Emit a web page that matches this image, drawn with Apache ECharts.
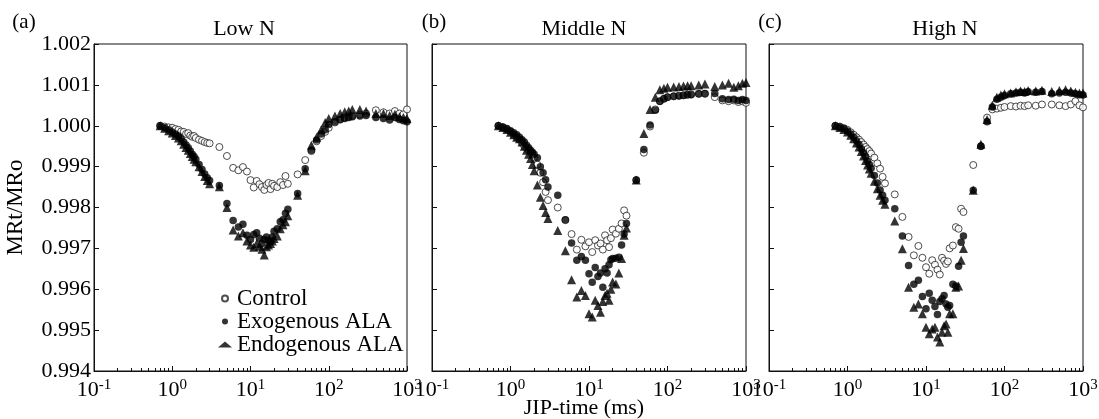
<!DOCTYPE html>
<html>
<head>
<meta charset="utf-8">
<script src="https://cdn.jsdelivr.net/npm/echarts@6/dist/echarts.min.js"></script>
<style>html,body{margin:0;padding:0;background:#fff}#c{width:1099px;height:419px}</style>
</head>
<body>
<div id="c"></div>
<script>
// ---- data (JIP-time in ms, MRt/MRo) ----
const timeMs = [0.7,0.8,0.9,1.0,1.1,1.2,1.3,1.4,1.5,1.6,1.7,1.8,1.9,2.0,2.2,2.4,2.6,2.8,3.0,
  4,5,6,7,8,9,10,11,12,13,14,15,16,17,18,19,20,22,24,26,28,30,
  40,50,60,70,80,90,100,120,140,160,180,200,250,300,
  400,500,600,700,800,900,1000];

const lowControl = [1.00000,0.99998,0.99996,0.99995,0.99992,0.99990,0.99986,0.99985,0.99980,0.99982,0.99976,0.99973,0.99975,0.99970,0.99966,0.99963,0.99960,0.99958,0.99957,
  0.99948,0.99926,0.99897,0.99891,0.99899,0.99888,0.99867,0.99849,0.99865,0.99857,0.99850,0.99843,0.99855,0.99860,0.99845,0.99858,0.99853,0.99850,0.99862,0.99855,0.99877,0.99858,
  0.99881,0.99916,0.99938,0.99962,0.99975,0.99985,0.99995,1.00008,1.00015,1.00020,1.00022,1.00024,1.00027,1.00030,
  1.00038,1.00033,1.00030,1.00036,1.00030,1.00028,1.00040];
const lowExo = [1.00000,0.99995,0.99990,0.99985,0.99980,0.99975,0.99968,0.99960,0.99953,0.99946,0.99938,0.99930,0.99925,0.99918,0.99905,0.99893,0.99882,0.99873,0.99866,
  0.99854,0.99810,0.99768,0.99752,0.99759,0.99732,0.99722,0.99734,0.99738,0.99725,0.99712,0.99722,0.99728,0.99720,0.99716,0.99728,0.99742,0.99748,0.99765,0.99770,0.99786,0.99796,
  0.99834,0.99895,0.99940,0.99965,0.99980,0.99990,1.00003,1.00010,1.00015,1.00018,1.00020,1.00022,1.00024,1.00025,
  1.00020,1.00018,1.00014,1.00020,1.00015,1.00012,1.00010];
const lowEndo = [1.00000,0.99994,0.99988,0.99982,0.99976,0.99970,0.99963,0.99955,0.99947,0.99940,0.99932,0.99925,0.99918,0.99912,0.99900,0.99888,0.99876,0.99866,0.99858,
  0.99851,0.99800,0.99745,0.99730,0.99738,0.99718,0.99708,0.99703,0.99712,0.99705,0.99698,0.99684,0.99704,0.99708,0.99712,0.99718,0.99724,0.99730,0.99748,0.99758,0.99765,0.99780,
  0.99830,0.99890,0.99952,0.99972,0.99990,1.00008,1.00018,1.00024,1.00030,1.00034,1.00036,1.00040,1.00040,1.00036,
  1.00030,1.00030,1.00025,1.00028,1.00022,1.00020,1.00018];

const midControl = [1.00000,0.99996,0.99991,0.99985,0.99978,0.99972,0.99966,0.99958,0.99950,0.99945,0.99940,0.99935,0.99928,0.99922,0.99905,0.99885,0.99862,0.99838,0.99818,
  0.99800,0.99769,0.99735,0.99697,0.99721,0.99705,0.99715,0.99691,0.99720,0.99707,0.99712,0.99697,0.99732,0.99720,0.99703,0.99725,0.99746,0.99736,0.99748,0.99761,0.99793,0.99780,
  0.99867,0.99934,0.99998,1.00040,1.00060,1.00066,1.00070,1.00072,1.00074,1.00075,1.00076,1.00077,1.00078,1.00078,
  1.00070,1.00062,1.00060,1.00062,1.00058,1.00060,1.00056];
const midExo = [1.00000,0.99997,0.99993,0.99988,0.99983,0.99978,0.99972,0.99966,0.99960,0.99952,0.99946,0.99940,0.99935,0.99930,0.99922,0.99900,0.99885,0.99868,0.99850,
  0.99830,0.99770,0.99713,0.99671,0.99680,0.99671,0.99638,0.99617,0.99653,0.99631,0.99640,0.99605,0.99650,0.99640,0.99660,0.99672,0.99675,0.99676,0.99678,0.99708,0.99735,0.99761,
  0.99867,0.99942,1.00002,1.00038,1.00060,1.00066,1.00070,1.00072,1.00073,1.00074,1.00076,1.00076,1.00078,1.00079,
  1.00079,1.00066,1.00064,1.00065,1.00062,1.00064,1.00062];
const midEndo = [1.00000,0.99996,0.99991,0.99984,0.99978,0.99972,0.99968,0.99960,0.99950,0.99940,0.99930,0.99920,0.99905,0.99890,0.99855,0.99825,0.99805,0.99788,0.99773,
  0.99744,0.99694,0.99623,0.99581,0.99597,0.99585,0.99540,0.99532,0.99573,0.99560,0.99544,0.99570,0.99585,0.99590,0.99573,0.99600,0.99618,0.99613,0.99640,0.99675,0.99732,0.99750,
  0.99867,0.99981,1.00040,1.00070,1.00088,1.00092,1.00094,1.00095,1.00096,1.00097,1.00098,1.00098,1.00100,1.00102,
  1.00096,1.00100,1.00104,1.00094,1.00098,1.00104,1.00106];

const highControl = [1.00000,0.99998,0.99994,0.99990,0.99984,0.99978,0.99972,0.99966,0.99960,0.99954,0.99948,0.99943,0.99938,0.99932,0.99922,0.99908,0.99895,0.99875,0.99859,
  0.99832,0.99777,0.99728,0.99683,0.99706,0.99677,0.99654,0.99638,0.99671,0.99660,0.99648,0.99636,0.99677,0.99670,0.99662,0.99668,0.99700,0.99707,0.99752,0.99748,0.99797,0.99789,
  0.99904,0.99950,1.00020,1.00040,1.00042,1.00044,1.00046,1.00048,1.00047,1.00049,1.00048,1.00050,1.00049,1.00052,
  1.00052,1.00050,1.00048,1.00052,1.00060,1.00050,1.00045];
const highExo = [1.00000,0.99997,0.99993,0.99987,0.99980,0.99972,0.99963,0.99954,0.99944,0.99934,0.99924,0.99914,0.99905,0.99896,0.99878,0.99860,0.99843,0.99830,0.99818,
  0.99797,0.99730,0.99658,0.99612,0.99622,0.99582,0.99552,0.99590,0.99573,0.99558,0.99538,0.99570,0.99577,0.99585,0.99564,0.99556,0.99560,0.99612,0.99608,0.99656,0.99715,0.99730,
  0.99842,0.99950,1.00010,1.00046,1.00065,1.00070,1.00074,1.00078,1.00080,1.00082,1.00080,1.00083,1.00082,1.00084,
  1.00078,1.00080,1.00082,1.00080,1.00078,1.00076,1.00075];
const highEndo = [1.00000,0.99996,0.99991,0.99985,0.99977,0.99968,0.99958,0.99948,0.99937,0.99926,0.99915,0.99904,0.99894,0.99884,0.99864,0.99846,0.99830,0.99818,0.99808,
  0.99767,0.99699,0.99605,0.99556,0.99564,0.99540,0.99507,0.99491,0.99503,0.99507,0.99483,0.99471,0.99495,0.99511,0.99515,0.99495,0.99540,0.99540,0.99605,0.99608,0.99671,0.99700,
  0.99842,0.99955,1.00015,1.00050,1.00070,1.00075,1.00078,1.00080,1.00083,1.00085,1.00084,1.00086,1.00085,1.00087,
  1.00084,1.00086,1.00088,1.00085,1.00082,1.00080,1.00080];

const seriesNames = ['Control', 'Exogenous ALA', 'Endogenous ALA'];
const panelTitles = ['Low N', 'Middle N', 'High N'];
const panelLetters = ['(a)', '(b)', '(c)'];
const xDecades = [0.1, 1, 10, 100, 1000];
const yMin = 0.994, yMax = 1.002, yStep = 0.001;
const panels = [
  [lowControl, lowExo, lowEndo],
  [midControl, midExo, midEndo],
  [highControl, highExo, highEndo]
];

// ---- layout ----
const FONT = 'Liberation Serif';
const gridBoxes = [
  {left: 94, top: 44, width: 313, height: 327},
  {left: 432, top: 44, width: 314, height: 327},
  {left: 769, top: 44, width: 314, height: 327}
];
const minorTicks = [];
for (let e = -1; e < 3; e++) for (let k = 2; k <= 9; k++) minorTicks.push(k * Math.pow(10, e));

const grid = [], xAxis = [], yAxis = [], series = [];
gridBoxes.forEach((g, i) => {
  grid.push(Object.assign({show: true, borderColor: '#111', borderWidth: 1, backgroundColor: 'transparent', outerBoundsMode: 'none'}, g));
  xAxis.push({
    type: 'log', logBase: 10, gridIndex: i, min: 0.1, max: 1000,
    axisLine: {show: true, lineStyle: {color: '#111', width: 1}},
    axisTick: {show: true, inside: true, length: 5, lineStyle: {color: '#111'}, customValues: xDecades},
    axisLabel: {
      show: true, margin: 7, color: '#000', customValues: xDecades, fontFamily: FONT,
      formatter: v => '{b|10}{s|' + Math.round(Math.log10(v)) + '}',
      rich: {
        b: {fontSize: 22, fontFamily: FONT, color: '#000', lineHeight: 24},
        s: {fontSize: 15, fontFamily: FONT, color: '#000', lineHeight: 15, verticalAlign: 'top'}
      }
    },
    splitLine: {show: false}
  });
  xAxis.push({
    type: 'log', logBase: 10, gridIndex: i, min: 0.1, max: 1000, position: 'bottom',
    axisLine: {show: false},
    axisTick: {show: true, inside: true, length: 3, lineStyle: {color: '#111'}, customValues: minorTicks},
    axisLabel: {show: false},
    splitLine: {show: false}
  });
  yAxis.push({
    type: 'value', gridIndex: i, min: yMin, max: yMax, interval: yStep,
    axisLine: {show: true, lineStyle: {color: '#111', width: 1}},
    axisTick: {show: true, inside: true, length: 5, lineStyle: {color: '#111'}},
    axisLabel: {show: i === 0, margin: 3, fontSize: 22, fontFamily: FONT, color: '#000', formatter: v => v.toFixed(3)},
    splitLine: {show: false},
    name: i === 0 ? 'MRt/MRo' : '', nameLocation: 'middle', nameGap: 67, nameRotate: 90,
    nameTextStyle: {fontSize: 23, fontFamily: FONT, color: '#000'}
  });
  const vals = panels[i];
  const styles = [
    {symbol: 'circle', symbolSize: 7, itemStyle: {color: '#fff', borderColor: '#222', borderWidth: 1}},
    {symbol: 'circle', symbolSize: 7.5, itemStyle: {color: '#000', borderWidth: 0}},
    {symbol: 'triangle', symbolSize: 9, itemStyle: {color: '#000', borderWidth: 0}}
  ];
  [0, 2, 1].forEach(k => {
    series.push(Object.assign({
      type: 'scatter', name: seriesNames[k], xAxisIndex: 2 * i, yAxisIndex: i,
      data: timeMs.map((t, j) => [t, vals[k][j]]),
      z: 2 + k, animation: false
    }, styles[k]));
  });
});

const graphic = [];
const letterX = [24, 434, 770];
const titleX = [244, 584, 945];
for (let i = 0; i < 3; i++) {
  graphic.push({type: 'text', x: letterX[i], y: 22, style: {text: panelLetters[i], fontSize: 21, fontFamily: FONT, fill: '#000', align: 'center', verticalAlign: 'middle'}});
  graphic.push({type: 'text', x: titleX[i], y: 29, style: {text: panelTitles[i], fontSize: 22, fontFamily: FONT, fill: '#000', align: 'center', verticalAlign: 'middle'}});
}
graphic.push({type: 'text', x: 584, y: 408, style: {text: 'JIP-time (ms)', fontSize: 22, fontFamily: FONT, fill: '#000', align: 'center', verticalAlign: 'middle'}});

const chart = echarts.init(document.getElementById('c'));
chart.setOption({
  animation: false,
  backgroundColor: '#fff',
  textStyle: {fontFamily: FONT},
  grid, xAxis, yAxis, series, graphic,
  legend: {
    data: seriesNames, orient: 'vertical', left: 218, top: 287, padding: 0,
    itemWidth: 14, itemHeight: 6, itemGap: 0, selectedMode: false,
    textStyle: {fontSize: 23, fontFamily: FONT, color: '#000', lineHeight: 22}
  }
});
</script>
</body>
</html>
